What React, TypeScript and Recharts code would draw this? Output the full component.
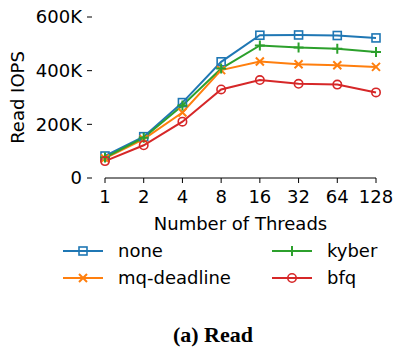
import { LineChart, Line, XAxis, YAxis, Label } from 'recharts'

const THREADS = ['1', '2', '4', '8', '16', '32', '64', '128']
const NONE = [82000, 154000, 281000, 433000, 532000, 533000, 531000, 522000]
const MQ_DEADLINE = [73000, 145000, 244000, 402000, 434000, 424000, 420000, 414000]
const KYBER = [76000, 150000, 270000, 408000, 494000, 486000, 482000, 470000]
const BFQ = [63000, 122000, 210000, 330000, 365000, 351000, 348000, 319000]
const Y_TICKS = [0, 200000, 400000, 600000]

const SERIES = [
  { key: 'none', name: 'none', color: '#1f77b4', marker: 'square' },
  { key: 'mq', name: 'mq-deadline', color: '#ff7f0e', marker: 'x' },
  { key: 'kyber', name: 'kyber', color: '#2ca02c', marker: 'plus' },
  { key: 'bfq', name: 'bfq', color: '#d62728', marker: 'circle' },
]

const data = THREADS.map((t, i) => ({
  t, none: NONE[i], mq: MQ_DEADLINE[i], kyber: KYBER[i], bfq: BFQ[i],
}))

const FONT = '"DejaVu Sans", sans-serif'

function Marker({ type, cx, cy, color }: { type: string; cx: number; cy: number; color: string }) {
  if (type === 'square')
    return <rect x={cx - 4} y={cy - 4} width={8} height={8} fill="none" stroke={color} strokeWidth={1.6} />
  if (type === 'circle')
    return <circle cx={cx} cy={cy} r={4.2} fill="none" stroke={color} strokeWidth={1.6} />
  if (type === 'x')
    return (
      <path d={`M${cx - 4},${cy - 4}L${cx + 4},${cy + 4}M${cx - 4},${cy + 4}L${cx + 4},${cy - 4}`}
        stroke={color} strokeWidth={2} />
    )
  return (
    <path d={`M${cx - 5},${cy}L${cx + 5},${cy}M${cx},${cy - 5}L${cx},${cy + 5}`}
      stroke={color} strokeWidth={2} />
  )
}

function YTick(props: any) {
  const { x, y, payload } = props
  const v = payload.value
  return (
    <g>
      <line x1={x - 18} x2={x - 13} y1={y} y2={y} stroke="#000" strokeWidth={1} />
      <text x={x - 23} y={y} dy="0.35em" textAnchor="end" fontSize={18} fontFamily={FONT} fill="#000">
        {v === 0 ? '0' : `${v / 1000}K`}
      </text>
    </g>
  )
}

function LegendItem({ s }: { s: typeof SERIES[number] }) {
  return (
    <div style={{ display: 'flex', alignItems: 'center', height: 27 }}>
      <svg width={42} height={14} style={{ marginRight: 13 }}>
        <line x1={0} x2={40} y1={7} y2={7} stroke={s.color} strokeWidth={2} />
        <Marker type={s.marker} cx={20} cy={7} color={s.color} />
      </svg>
      <span>{s.name}</span>
    </div>
  )
}

export default function App() {
  return (
    <div style={{ position: 'absolute', left: 0, top: 0, width: 394, height: 350, background: '#fff' }}>
      <LineChart width={394} height={350} data={data}
        margin={{ top: 17, right: 18, left: 0, bottom: 112 }}>
        <XAxis dataKey="t" height={60} tickSize={5} tickMargin={7}
          axisLine={{ stroke: '#000', strokeWidth: 1 }} tickLine={{ stroke: '#000' }}
          tick={{ fontSize: 18, fontFamily: FONT, fill: '#000' }} interval={0}>
          <Label value="Number of Threads" position="insideBottom" offset={8}
            style={{ fontSize: 18, fontFamily: FONT, fill: '#000' }} />
        </XAxis>
        <YAxis width={105} domain={[0, 600000]} ticks={Y_TICKS} tickSize={0} tickMargin={0}
          axisLine={false} tickLine={false} tick={<YTick />}>
          <Label value="Read IOPS" angle={-90} position="center" dx={-35}
            style={{ fontSize: 18, fontFamily: FONT, fill: '#000', textAnchor: 'middle' }} />
        </YAxis>
        {SERIES.map(s => (
          <Line key={s.key} dataKey={s.key} name={s.name} type="linear" stroke={s.color}
            strokeWidth={2} isAnimationActive={false}
            dot={(p: any) => <Marker key={p.index} type={s.marker} cx={p.cx} cy={p.cy} color={s.color} />} />
        ))}
      </LineChart>
      <div style={{ position: 'absolute', left: 63, top: 237, fontFamily: FONT, fontSize: 18, color: '#000' }}>
        <LegendItem s={SERIES[0]} />
        <LegendItem s={SERIES[1]} />
      </div>
      <div style={{ position: 'absolute', left: 272, top: 237, fontFamily: FONT, fontSize: 18, color: '#000' }}>
        <LegendItem s={SERIES[2]} />
        <LegendItem s={SERIES[3]} />
      </div>
      <div style={{ position: 'absolute', left: 113, width: 200, top: 322, textAlign: 'center',
        fontFamily: '"Liberation Serif", serif', fontWeight: 'bold', fontSize: 22, color: '#000' }}>
        (a) Read
      </div>
    </div>
  )
}
